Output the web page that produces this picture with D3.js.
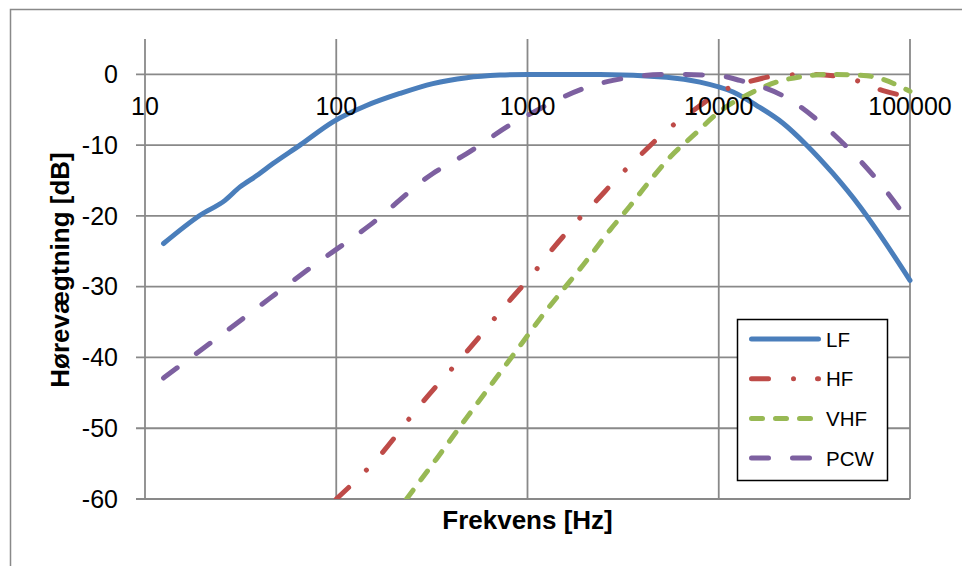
<!DOCTYPE html>
<html><head><meta charset="utf-8">
<script src="https://cdn.jsdelivr.net/npm/d3@7"></script>
<style>body{margin:0;background:#fff}svg{display:block}text{font-family:"Liberation Sans",Arial,sans-serif}</style>
</head><body><svg id="c" width="962" height="566"></svg>
<script>
const xTicks=[10,100,1000,10000,100000];
const yTicks=[0,-10,-20,-30,-40,-50,-60];
const seriesNames=["LF","HF","VHF","PCW"];
const lfFreq=[12.5,19.4,26.2,31.4,38.4,46.7,64.6,96.1,144,215,320,481,718,1000,1500,2393,5346,7980,11890,15800,21680,28840,39540,54790,67000,100000];
const lfDb=[-23.9,-19.9,-17.8,-15.9,-14.3,-12.6,-10.0,-6.7,-4.4,-2.7,-1.3,-0.47,-0.1,0,0,0,-0.4,-1.1,-2.5,-4.4,-6.9,-10.0,-14.0,-18.7,-22.0,-29.1];
const hfFreq=[100,161,283,481,810,1052,1339,1735,2300,2985,4030,5346,7360,10160,14560,21680,31120,48530,72280,100000];
const hfDb=[-60,-54.5,-46.3,-39.2,-31.9,-28.4,-24.8,-21.3,-17.8,-14.5,-11.0,-7.9,-5.1,-2.5,-1.0,-0.1,0,-0.6,-2.3,-3.2];
const vhfFreq=[233,335,481,690,946,1260,1538,1959,2698,3434,4198,5555,7670,9722,14560,22640,39540,59430,100000];
const vhfDb=[-60,-54.3,-48.5,-42.8,-37.8,-33.3,-30.4,-26.9,-22.0,-18.6,-15.6,-11.7,-8.2,-5.6,-2.7,-0.7,0,-0.2,-2.4];
const pcwFreq=[12.5,33.3,74.4,150,320,481,839,1117,1311,2199,2798,5346,9722,12900,23280,34670,48960,69660,100000];
const pcwDb=[-42.9,-34.3,-27.2,-21.3,-14.0,-11.2,-6.9,-5.1,-4.1,-1.55,-0.85,0,-0.14,-0.85,-3.5,-7.0,-10.8,-15.4,-21.0];

const series=[
  {name:"LF",f:lfFreq,v:lfDb,color:"#4A7EBB",dash:null},
  {name:"HF",f:hfFreq,v:hfDb,color:"#BE4B48",dash:"17,25,0.01,24"},
  {name:"VHF",f:vhfFreq,v:vhfDb,color:"#98B954",dash:"11,13"},
  {name:"PCW",f:pcwFreq,v:pcwDb,color:"#7D60A0",dash:"17,24"}
];

const svg=d3.select("#c");
const L=145,R=910,T=39,B=499;
const x=d3.scaleLog().domain([10,100000]).range([L,R]);
const y=d3.scaleLinear().domain([-60,5]).range([B,T]);
const grid="#898989";

// outer chart border
svg.append("rect").attr("x",10.5).attr("y",9.5).attr("width",1200).attr("height",1200)
  .attr("fill","none").attr("stroke",grid).attr("stroke-width",1.5);

// horizontal gridlines + y ticks
const gy=svg.append("g");
yTicks.forEach(t=>{
  gy.append("line").attr("x1",L-9).attr("x2",R).attr("y1",y(t)).attr("y2",y(t))
    .attr("stroke",grid).attr("stroke-width",1.8);
  gy.append("text").attr("x",118).attr("y",y(t)).attr("dy","0.35em")
    .attr("text-anchor","end").attr("font-size",25).attr("fill","#000").text(t);
});
// vertical gridlines
xTicks.forEach(t=>{
  gy.append("line").attr("x1",x(t)).attr("x2",x(t)).attr("y1",T).attr("y2",B)
    .attr("stroke",grid).attr("stroke-width",1.8);
});

// series
const clip=svg.append("clipPath").attr("id","pc").append("rect")
  .attr("x",L).attr("y",T-5).attr("width",R-L+5).attr("height",B-T+5);
const line=d3.line().x(d=>x(d[0])).y(d=>y(d[1])).curve(d3.curveMonotoneX);
const gs=svg.append("g").attr("clip-path","url(#pc)");
series.forEach(s=>{
  const pts=s.f.map((f,i)=>[f,s.v[i]]);
  gs.append("path").datum(pts).attr("d",line).attr("fill","none")
    .attr("stroke",s.color).attr("stroke-width",5)
    .attr("stroke-linecap","round").attr("stroke-linejoin","round")
    .attr("stroke-dasharray",s.dash);
});

// x tick labels (axis crosses at 0)
xTicks.forEach(t=>{
  svg.append("text").attr("x",x(t)).attr("y",y(0)+33+8).attr("text-anchor","middle")
    .attr("font-size",25).attr("fill","#000").text(t);
});

// axis titles
svg.append("text").attr("x",(L+R)/2).attr("y",529).attr("text-anchor","middle")
  .attr("font-size",26).attr("font-weight","bold").text("Frekvens [Hz]");
svg.append("text").attr("transform",`translate(68.5,${(T+B)/2+1}) rotate(-90)`)
  .attr("text-anchor","middle").attr("font-size",26).attr("font-weight","bold")
  .text("Hørevægtning [dB]");

// legend
const lg=svg.append("g");
lg.append("rect").attr("x",737.5).attr("y",319.5).attr("width",150).attr("height",161)
  .attr("fill","#fff").attr("stroke","#000").attr("stroke-width",1.5);
series.forEach((s,i)=>{
  const yy=339+i*39.7;
  lg.append("line").attr("x1",751.5).attr("x2",818.5).attr("y1",yy).attr("y2",yy)
    .attr("stroke",s.color).attr("stroke-width",5).attr("stroke-linecap","round")
    .attr("stroke-dasharray",s.dash);
  lg.append("text").attr("x",826).attr("y",yy+7.5).attr("font-size",20.5).attr("fill","#000").text(s.name);
});
</script></body></html>
